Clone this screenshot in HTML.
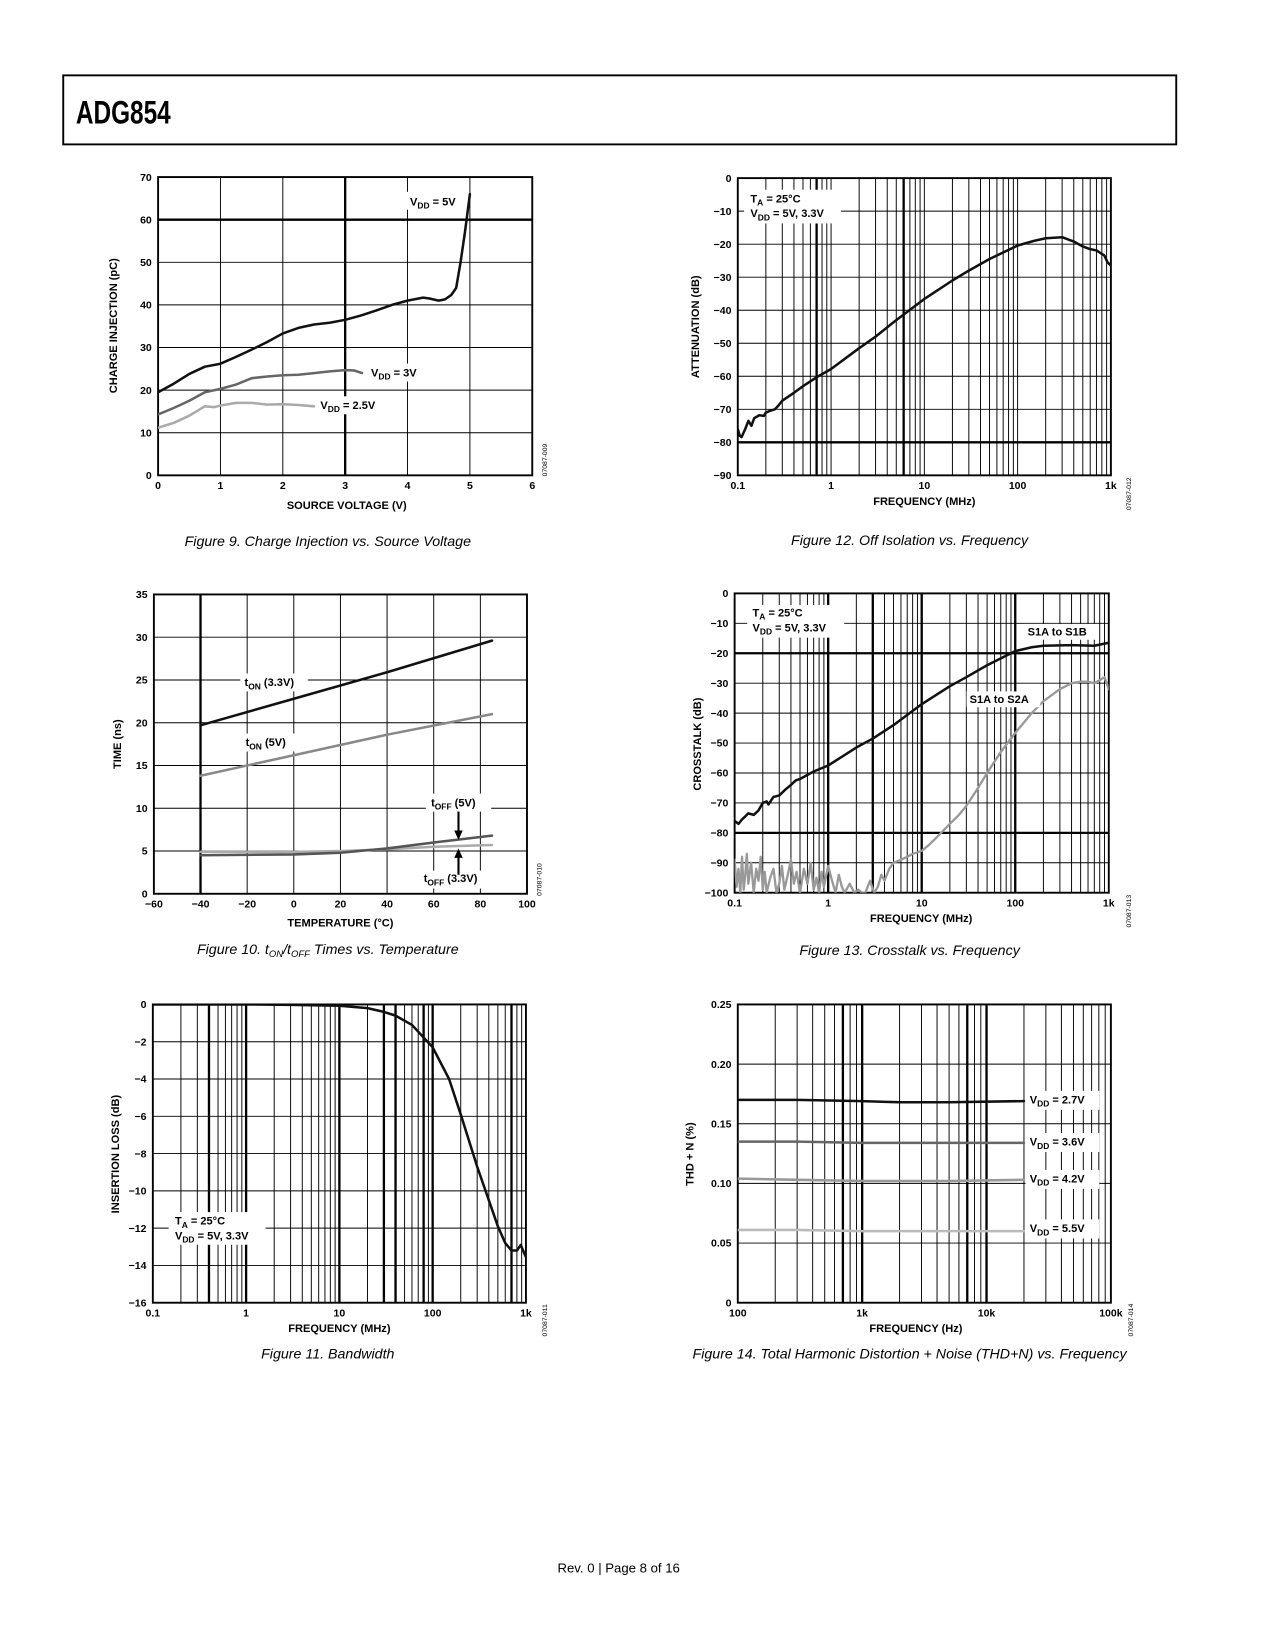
<!DOCTYPE html>
<html><head><meta charset="utf-8"><title>ADG854 page 8</title>
<style>
html,body{margin:0;padding:0;background:#fff;}
svg{display:block;}
text{font-family:"Liberation Sans",Arial,sans-serif;}
.tk{font-size:10px;font-weight:bold;}
.at{font-size:10.5px;font-weight:bold;}
.lb{font-size:10.5px;font-weight:bold;}
.cap{font-size:13.5px;font-style:italic;}
.code{font-size:6.5px;}
</style></head>
<body>
<svg id="page" xmlns="http://www.w3.org/2000/svg" width="1275" height="1650" viewBox="0 0 1209.7 1565.5">
<defs>
<clipPath id="cp1"><rect x="150" y="168" width="355" height="283"/></clipPath>
<clipPath id="cp2"><rect x="700" y="169" width="354" height="282"/></clipPath>
<clipPath id="cp3"><rect x="146" y="564" width="354" height="284"/></clipPath>
<clipPath id="cp4"><rect x="697" y="563" width="355" height="284"/></clipPath>
<clipPath id="cp5"><rect x="145" y="953" width="354" height="283"/></clipPath>
<clipPath id="cp6"><rect x="700" y="953" width="354" height="283"/></clipPath>
</defs>
<rect x="0" y="0" width="1209.7" height="1565.5" fill="#fff"/>
<rect x="60" y="71.5" width="1056" height="65.5" fill="none" stroke="#000" stroke-width="1.8"/>
<text x="72" y="117" font-family="Liberation Sans Narrow, Liberation Sans, sans-serif" font-weight="bold" font-size="31" textLength="90" lengthAdjust="spacingAndGlyphs">ADG854</text>

<!-- chart layers -->
<g id="c1"></g>
<g id="c2"></g>
<g id="c3"></g>
<g id="c4"></g>
<g id="c5"></g>
<g id="c6"></g>

<!-- Fig 9 labels -->
<g>
<rect x="386" y="182" width="56" height="17" fill="#fff"/>
<text class="lb" x="389" y="195">V<tspan dy="3" font-size="8">DD</tspan><tspan dy="-3"> = 5V</tspan></text>
<rect x="349" y="345" width="58" height="17" fill="#fff"/>
<text class="lb" x="352" y="357">V<tspan dy="3" font-size="8">DD</tspan><tspan dy="-3"> = 3V</tspan></text>
<rect x="301" y="376" width="66" height="17" fill="#fff"/>
<text class="lb" x="304" y="388">V<tspan dy="3" font-size="8">DD</tspan><tspan dy="-3"> = 2.5V</tspan></text>
<text class="at" x="329" y="483" text-anchor="middle">SOURCE VOLTAGE (V)</text>
<text class="at" transform="translate(111,309) rotate(-90)" text-anchor="middle">CHARGE INJECTION (pC)</text>
<text class="code" transform="translate(519,452) rotate(-90)">07087-009</text>
<text class="cap" x="311" y="518" text-anchor="middle">Figure 9. Charge Injection vs. Source Voltage</text>
</g>

<!-- Fig 12 labels -->
<g>
<rect x="706" y="180" width="92" height="32" fill="#fff"/>
<text class="lb" x="712" y="192">T<tspan dy="3" font-size="8">A</tspan><tspan dy="-3"> = 25°C</tspan></text>
<text class="lb" x="712" y="206">V<tspan dy="3" font-size="8">DD</tspan><tspan dy="-3"> = 5V, 3.3V</tspan></text>
<text class="at" x="877" y="479" text-anchor="middle">FREQUENCY (MHz)</text>
<text class="at" transform="translate(663,310) rotate(-90)" text-anchor="middle">ATTENUATION (dB)</text>
<text class="code" transform="translate(1073,484) rotate(-90)">07087-012</text>
<text class="cap" x="863" y="517" text-anchor="middle">Figure 12. Off Isolation vs. Frequency</text>
</g>

<!-- Fig 10 labels -->
<g>
<rect x="228" y="639" width="64" height="17" fill="#fff"/>
<text class="lb" x="232" y="651">t<tspan dy="3" font-size="8">ON</tspan><tspan dy="-3"> (3.3V)</tspan></text>
<rect x="229" y="696" width="52" height="17" fill="#fff"/>
<text class="lb" x="233" y="708">t<tspan dy="3" font-size="8">ON</tspan><tspan dy="-3"> (5V)</tspan></text>
<rect x="404" y="753" width="62" height="17" fill="#fff"/>
<text class="lb" x="409" y="765">t<tspan dy="3" font-size="8">OFF</tspan><tspan dy="-3"> (5V)</tspan></text>
<rect x="398" y="826" width="70" height="17" fill="#fff"/>
<text class="lb" x="402" y="837">t<tspan dy="3" font-size="8">OFF</tspan><tspan dy="-3"> (3.3V)</tspan></text>
<line x1="435" y1="770" x2="435" y2="790" stroke="#000" stroke-width="2"/>
<polygon points="431,788 439,788 435,797" fill="#000"/>
<line x1="435" y1="830" x2="435" y2="812" stroke="#000" stroke-width="2"/>
<polygon points="431,814 439,814 435,805" fill="#000"/>
<text class="at" x="323" y="879" text-anchor="middle">TEMPERATURE (°C)</text>
<text class="at" transform="translate(115,706) rotate(-90)" text-anchor="middle">TIME (ns)</text>
<text class="code" transform="translate(514,850) rotate(-90)">07087-010</text>
<text class="cap" x="311" y="905" text-anchor="middle">Figure 10. t<tspan dy="3" font-size="9">ON</tspan><tspan dy="-3">/t</tspan><tspan dy="3" font-size="9">OFF</tspan><tspan dy="-3"> Times vs. Temperature</tspan></text>
</g>

<!-- Fig 13 labels -->
<g>
<rect x="709" y="574" width="92" height="31" fill="#fff"/>
<text class="lb" x="714" y="585">T<tspan dy="3" font-size="8">A</tspan><tspan dy="-3"> = 25°C</tspan></text>
<text class="lb" x="714" y="599">V<tspan dy="3" font-size="8">DD</tspan><tspan dy="-3"> = 5V, 3.3V</tspan></text>
<rect x="972" y="592" width="70" height="15" fill="#fff"/>
<text class="lb" x="975" y="603">S1A to S1B</text>
<rect x="917" y="656" width="70" height="15" fill="#fff"/>
<text class="lb" x="920" y="667">S1A to S2A</text>
<text class="at" x="874" y="875" text-anchor="middle">FREQUENCY (MHz)</text>
<text class="at" transform="translate(665,706) rotate(-90)" text-anchor="middle">CROSSTALK (dB)</text>
<text class="code" transform="translate(1073,880) rotate(-90)">07087-013</text>
<text class="cap" x="863" y="906" text-anchor="middle">Figure 13. Crosstalk vs. Frequency</text>
</g>

<!-- Fig 11 labels -->
<g>
<rect x="160" y="1150" width="92" height="31" fill="#fff"/>
<text class="lb" x="166" y="1162">T<tspan dy="3" font-size="8">A</tspan><tspan dy="-3"> = 25°C</tspan></text>
<text class="lb" x="166" y="1176">V<tspan dy="3" font-size="8">DD</tspan><tspan dy="-3"> = 5V, 3.3V</tspan></text>
<text class="at" x="322" y="1264" text-anchor="middle">FREQUENCY (MHz)</text>
<text class="at" transform="translate(113,1095) rotate(-90)" text-anchor="middle">INSERTION LOSS (dB)</text>
<text class="code" transform="translate(519,1268) rotate(-90)">07087-011</text>
<text class="cap" x="311" y="1289" text-anchor="middle">Figure 11. Bandwidth</text>
</g>

<!-- Fig 14 labels -->
<g>
<rect x="973" y="1035" width="70" height="18" fill="#fff"/>
<text class="lb" x="977" y="1047">V<tspan dy="3" font-size="8">DD</tspan><tspan dy="-3"> = 2.7V</tspan></text>
<rect x="973" y="1075" width="70" height="18" fill="#fff"/>
<text class="lb" x="977" y="1087">V<tspan dy="3" font-size="8">DD</tspan><tspan dy="-3"> = 3.6V</tspan></text>
<rect x="973" y="1110" width="70" height="18" fill="#fff"/>
<text class="lb" x="977" y="1122">V<tspan dy="3" font-size="8">DD</tspan><tspan dy="-3"> = 4.2V</tspan></text>
<rect x="973" y="1157" width="70" height="18" fill="#fff"/>
<text class="lb" x="977" y="1169">V<tspan dy="3" font-size="8">DD</tspan><tspan dy="-3"> = 5.5V</tspan></text>
<text class="at" x="869" y="1264" text-anchor="middle">FREQUENCY (Hz)</text>
<text class="at" transform="translate(658,1095) rotate(-90)" text-anchor="middle">THD + N (%)</text>
<text class="code" transform="translate(1075,1268) rotate(-90)">07087-014</text>
<text class="cap" x="863" y="1289" text-anchor="middle">Figure 14. Total Harmonic Distortion + Noise (THD+N) vs. Frequency</text>
</g>

<text x="587" y="1492" text-anchor="middle" font-size="12.5">Rev. 0 | Page 8 of 16</text>
</svg>

<script>
// ---- Fig 9 data ----
const c1XTicks=[0,1,2,3,4,5,6];
const c1YTicks=[0,10,20,30,40,50,60,70];
const c1V5x=[0,0.25,0.5,0.75,1,1.25,1.5,1.75,2,2.25,2.5,2.75,3,3.25,3.5,3.75,4,4.25,4.35,4.5,4.6,4.7,4.78,4.85,4.92,5];
const c1V5y=[19.5,21.5,23.8,25.5,26.2,27.8,29.5,31.3,33.3,34.6,35.4,35.8,36.5,37.5,38.7,40,41,41.7,41.5,41,41.3,42.3,44,50,57,66];
const c1V3x=[0,0.25,0.5,0.75,1,1.25,1.5,1.75,2,2.25,2.5,2.75,3,3.15,3.27];
const c1V3y=[14.3,15.8,17.5,19.5,20.3,21.3,22.8,23.2,23.5,23.6,24,24.4,24.7,24.6,24];
const c1V25x=[0,0.25,0.5,0.75,0.9,1,1.25,1.5,1.75,2,2.25,2.5];
const c1V25y=[11.2,12.3,14,16.2,16,16.4,17,17,16.6,16.7,16.5,16.2];
// ---- Fig 12 data ----
const c2XTicks=[0.1,1,10,100,1000];
const c2XLabels=["0.1","1","10","100","1k"];
const c2YTicks=[0,-10,-20,-30,-40,-50,-60,-70,-80,-90];
const c2Fx=[0.1,0.105,0.11,0.12,0.13,0.14,0.15,0.17,0.19,0.2,0.22,0.25,0.27,0.3,0.4,0.5,0.7,1,2,3,5,10,20,30,50,100,150,200,300,400,500,600,700,850,920,1000];
const c2Ay=[-76,-78,-78.4,-76,-73.5,-75,-72.7,-71.8,-72,-71,-70.5,-70,-69,-67.4,-65,-63,-60.3,-57.8,-51.5,-48,-43,-36.6,-31,-28,-24.5,-20.4,-19,-18.2,-17.9,-19.2,-20.7,-21.5,-21.9,-23.4,-25.5,-26.5];
// ---- Fig 10 data ----
const c3XTicks=[-60,-40,-20,0,20,40,60,80,100];
const c3YTicks=[0,5,10,15,20,25,30,35];
const c3Tx=[-40,0,40,85];
const c3On33=[19.7,22.8,25.9,29.6];
const c3On5=[13.8,16.2,18.6,21];
const c3Tx2=[-40,0,20,40,60,85];
const c3Off5=[4.5,4.6,4.8,5.3,6,6.8];
const c3Off33=[4.9,4.9,5,5.2,5.5,5.7];
// ---- Fig 13 data ----
const c4XTicks=[0.1,1,10,100,1000];
const c4XLabels=["0.1","1","10","100","1k"];
const c4YTicks=[0,-10,-20,-30,-40,-50,-60,-70,-80,-90,-100];
const c4S1Bx=[0.1,0.11,0.12,0.13,0.14,0.16,0.18,0.2,0.22,0.23,0.26,0.3,0.35,0.4,0.45,0.5,0.7,1,2,3,5,10,20,30,50,100,150,200,400,700,1000];
const c4S1By=[-76,-77,-75.5,-74.5,-73.5,-74,-72.5,-70,-69.5,-70.5,-68,-67.5,-65.5,-64,-62.5,-62,-59.5,-57.5,-51.5,-48.5,-44,-37,-31,-28,-24,-19.3,-18,-17.5,-17.3,-17.5,-16.5];
const c4S2Ax=[0.1,0.105,0.11,0.115,0.12,0.125,0.13,0.135,0.14,0.15,0.16,0.17,0.18,0.19,0.2,0.21,0.22,0.24,0.26,0.28,0.3,0.32,0.34,0.37,0.4,0.43,0.46,0.5,0.55,0.6,0.65,0.7,0.75,0.8,0.85,0.9,1,1.1,1.2,1.3,1.4,1.5,1.7,1.9,2.1,2.3,2.5,2.8,3.1,3.4,3.7,4,4.5,5,6,7,8,9,10,12,15,20,25,30,40,50,70,100,150,200,300,400,500,600,700,800,900,1000];
const c4S2Ay=[-89,-98,-92,-100,-88,-99,-94,-87,-97,-90,-100,-92,-96,-88,-99,-93,-100,-95,-92,-100,-97,-91,-99,-94,-89,-97,-93,-100,-92,-97,-90,-99,-95,-100,-93,-98,-91,-96,-100,-94,-98,-100,-97,-100,-99,-100,-100,-96,-100,-98,-94,-96,-92,-90,-89,-88,-87,-86.5,-86,-84,-81,-77,-74,-71,-65,-60,-53,-46.6,-40,-36,-32,-30,-29.5,-29.5,-30,-29,-28,-32];
// ---- Fig 11 data ----
const c5XTicks=[0.1,1,10,100,1000];
const c5XLabels=["0.1","1","10","100","1k"];
const c5YTicks=[0,-2,-4,-6,-8,-10,-12,-14,-16];
const c5Fx=[0.1,1,3,10,20,30,40,60,100,150,200,300,400,500,600,700,800,880,950,1000];
const c5Ly=[0,0,-0.02,-0.07,-0.2,-0.4,-0.6,-1.1,-2.3,-4,-5.9,-8.7,-10.5,-11.9,-12.8,-13.2,-13.2,-12.9,-13.3,-13.55];
// ---- Fig 14 data ----
const c6XTicks=[100,1000,10000,100000];
const c6XLabels=["100","1k","10k","100k"];
const c6YTicks=[0,0.05,0.10,0.15,0.20,0.25];
const c6YLabels=["0","0.05","0.10","0.15","0.20","0.25"];
const c6Fx=[100,300,1000,2000,5000,20000];
const c6V27=[0.170,0.170,0.169,0.168,0.168,0.169];
const c6V36=[0.135,0.135,0.134,0.134,0.134,0.134];
const c6V42=[0.104,0.103,0.102,0.102,0.102,0.103];
const c6V55=[0.061,0.061,0.060,0.060,0.060,0.060];

const NS='http://www.w3.org/2000/svg';
function mk(parent,tag,attrs){const e=document.createElementNS(NS,tag);for(const k in attrs)e.setAttribute(k,attrs[k]);parent.appendChild(e);return e;}
function linScale(a,b,p,q){return v=>p+(v-a)/(b-a)*(q-p);}
function logScale(a,b,p,q){const la=Math.log10(a),lb=Math.log10(b);return v=>p+(Math.log10(v)-la)/(lb-la)*(q-p);}
function logGrid(a,b){const out=[];for(let d=a;d<b*0.999;d*=10){for(let k=1;k<=9;k++)out.push(d*k);}out.push(b);return out;}

function drawFrame(c){
  const g=document.getElementById(c.id);
  c.g=g;
  c.vgrid.forEach(v=>{
    const x=c.sx(v);
    const thick=c.vthick.some(t=>Math.abs(t-v)<1e-9*Math.max(1,Math.abs(v)));
    const l=mk(g,'line',{x1:x,x2:x,y1:c.top,y2:c.bot,stroke:'#000','stroke-width':thick?2.2:0.9});
    
    
  });
  c.hgrid.forEach(v=>{
    const y=c.sy(v);
    const thick=c.hthick.indexOf(v)>=0;
    const l=mk(g,'line',{x1:c.left,x2:c.right,y1:y,y2:y,stroke:'#000','stroke-width':thick?2.2:0.9});
    
    
  });
  const fr=mk(g,'rect',{x:c.left,y:c.top,width:c.right-c.left,height:c.bot-c.top,fill:'none',stroke:'#000','stroke-width':1.8});
  
  
  c.xticks.forEach((v,i)=>{
    const t=mk(g,'text',{x:c.sx(v),y:c.bot+13,'text-anchor':'middle',class:'tk'});
    t.textContent=c.xlabels[i];
    
    
  });
  c.yticks.forEach((v,i)=>{
    const t=mk(g,'text',{x:c.left-6,y:c.sy(v)+3.5,'text-anchor':'end',class:'tk'});
    t.textContent=c.ylabels[i];
    
    
  });
}
function series(c,xs,ys,color,name,w){
  let d='';
  xs.forEach((x,i)=>{d+=(i?'L':'M')+c.sx(x).toFixed(2)+','+c.sy(ys[i]).toFixed(2);});
  const p=mk(c.g,'path',{d:d,fill:'none',stroke:color,'stroke-width':w||2.4,'stroke-linejoin':'round','stroke-linecap':'round','clip-path':'url(#'+c.clip+')'});
  
  
}
const minus=v=>String(v).replace('-','\u2212');

// Fig 9
const C1={id:'c1',clip:'cp1',left:150,right:505,top:168,bot:451};
C1.sx=linScale(0,6,C1.left,C1.right);C1.sy=linScale(0,70,C1.bot,C1.top);
C1.vgrid=c1XTicks;C1.vthick=[3];C1.hgrid=c1YTicks;C1.hthick=[60];
C1.xticks=c1XTicks;C1.xlabels=c1XTicks.map(String);C1.yticks=c1YTicks;C1.ylabels=c1YTicks.map(String);
drawFrame(C1);
series(C1,c1V25x,c1V25y,'#aaaaaa','vdd-2v5-line');
series(C1,c1V3x,c1V3y,'#666666','vdd-3v-line');
series(C1,c1V5x,c1V5y,'#111111','vdd-5v-line');

// Fig 12
const C2={id:'c2',clip:'cp2',left:700,right:1054,top:169,bot:451};
C2.sx=logScale(0.1,1000,C2.left,C2.right);C2.sy=linScale(-90,0,C2.bot,C2.top);
C2.vgrid=logGrid(0.1,1000);C2.vthick=[0.7,6];C2.hgrid=c2YTicks;C2.hthick=[-80];
C2.xticks=c2XTicks;C2.xlabels=c2XLabels;C2.yticks=c2YTicks;C2.ylabels=c2YTicks.map(minus);
drawFrame(C2);
series(C2,c2Fx,c2Ay,'#111111','off-isolation-line');

// Fig 10
const C3={id:'c3',clip:'cp3',left:146,right:500,top:564,bot:848};
C3.sx=linScale(-60,100,C3.left,C3.right);C3.sy=linScale(0,35,C3.bot,C3.top);
C3.vgrid=c3XTicks;C3.vthick=[-40];C3.hgrid=c3YTicks;C3.hthick=[];
C3.xticks=c3XTicks;C3.xlabels=c3XTicks.map(minus);C3.yticks=c3YTicks;C3.ylabels=c3YTicks.map(String);
drawFrame(C3);
series(C3,c3Tx2,c3Off33,'#aaaaaa','toff-3v3-line');
series(C3,c3Tx2,c3Off5,'#555555','toff-5v-line');
series(C3,c3Tx,c3On5,'#888888','ton-5v-line');
series(C3,c3Tx,c3On33,'#111111','ton-3v3-line');

// Fig 13
const C4={id:'c4',clip:'cp4',left:697,right:1052,top:563,bot:847};
C4.sx=logScale(0.1,1000,C4.left,C4.right);C4.sy=linScale(-100,0,C4.bot,C4.top);
C4.vgrid=logGrid(0.1,1000);C4.vthick=[1,3,10,100];C4.hgrid=c4YTicks;C4.hthick=[-20,-80];
C4.xticks=c4XTicks;C4.xlabels=c4XLabels;C4.yticks=c4YTicks;C4.ylabels=c4YTicks.map(minus);
drawFrame(C4);
series(C4,c4S2Ax,c4S2Ay,'#999999','s1a-to-s2a-line',2.2);
series(C4,c4S1Bx,c4S1By,'#111111','s1a-to-s1b-line');

// Fig 11
const C5={id:'c5',clip:'cp5',left:145,right:499,top:953,bot:1236};
C5.sx=logScale(0.1,1000,C5.left,C5.right);C5.sy=linScale(-16,0,C5.bot,C5.top);
C5.vgrid=logGrid(0.1,1000);C5.vthick=[0.4,1,10,30,40,80,100,700];C5.hgrid=c5YTicks;C5.hthick=[];
C5.xticks=c5XTicks;C5.xlabels=c5XLabels;C5.yticks=c5YTicks;C5.ylabels=c5YTicks.map(minus);
drawFrame(C5);
series(C5,c5Fx,c5Ly,'#111111','insertion-loss-line');

// Fig 14
const C6={id:'c6',clip:'cp6',left:700,right:1054,top:953,bot:1236};
C6.sx=logScale(100,100000,C6.left,C6.right);C6.sy=linScale(0,0.25,C6.bot,C6.top);
C6.vgrid=logGrid(100,100000);C6.vthick=[700,1000,7000,10000];C6.hgrid=c6YTicks;C6.hthick=[];
C6.xticks=c6XTicks;C6.xlabels=c6XLabels;C6.yticks=c6YTicks;C6.ylabels=c6YLabels;
drawFrame(C6);
series(C6,c6Fx,c6V27,'#111111','vdd-2v7-line');
series(C6,c6Fx,c6V36,'#666666','vdd-3v6-line');
series(C6,c6Fx,c6V42,'#999999','vdd-4v2-line');
series(C6,c6Fx,c6V55,'#bbbbbb','vdd-5v5-line');
</script>
</body></html>
